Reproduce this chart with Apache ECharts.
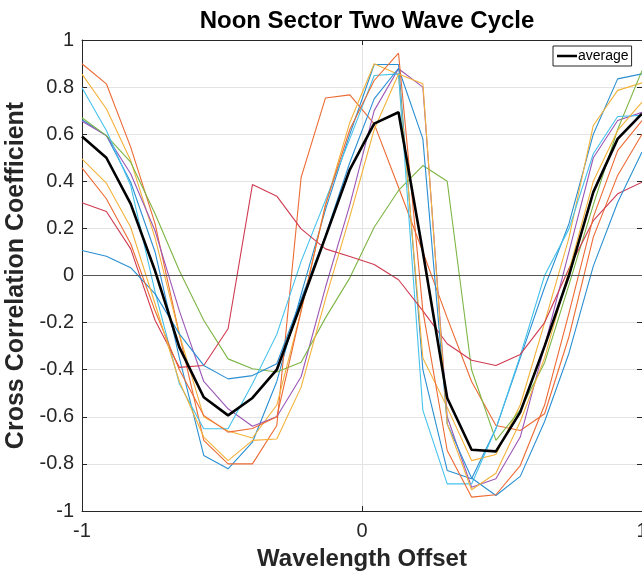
<!DOCTYPE html>
<html>
<head>
<meta charset="utf-8">
<script src="https://cdn.jsdelivr.net/npm/echarts@6.0.0/dist/echarts.min.js"></script>
<style>
  html, body { margin: 0; padding: 0; background: #ffffff; }
  #chart { width: 642px; height: 575px; }
</style>
</head>
<body>
<div id="chart"></div>
<script>
// Wavelength offsets sampled for every cycle (24 samples from -1 to 1)
const offsets = [-1, -0.913, -0.8261, -0.7391, -0.6522, -0.5652, -0.4783, -0.3913,
  -0.3043, -0.2174, -0.1304, -0.0435, 0.0435, 0.1304, 0.2174, 0.3043,
  0.3913, 0.4783, 0.5652, 0.6522, 0.7391, 0.8261, 0.913, 1];

const xTickValues = [-1, 0, 1];
const yTickValues = [-1, -0.8, -0.6, -0.4, -0.2, 0, 0.2, 0.4, 0.6, 0.8, 1];

// Cross correlation coefficient of each individual cycle
const cycle01 = [0.661, 0.594, 0.396, 0.10, -0.35, -0.764, -0.821, -0.708, -0.45, -0.08, 0.28, 0.60,
  0.896, 0.896, -0.40, -0.828, -0.863, -0.65, -0.35, -0.05, 0.22, 0.60, 0.835, 0.856];
const cycle02 = [0.899, 0.814, 0.545, 0.22, -0.25, -0.70, -0.80, -0.80, -0.637, 0.417, 0.754, 0.767,
  0.644, 0.375, 0.10, -0.18, -0.45, -0.637, -0.658, -0.587, -0.26, 0.163, 0.425, 0.60];
const cycle03 = [0.855, 0.708, 0.488, 0.16, -0.25, -0.60, -0.66, -0.69, -0.55, -0.15, 0.30, 0.65,
  0.899, 0.853, -0.35, -0.56, -0.786, -0.76, -0.55, -0.20, 0.16, 0.637, 0.786, 0.818];
const cycle04 = [0.655, 0.594, 0.432, 0.19, -0.15, -0.45, -0.566, -0.64, -0.60, -0.43, -0.05, 0.30,
  0.70, 0.878, 0.80, -0.60, -0.899, -0.863, -0.686, -0.30, 0.10, 0.50, 0.658, 0.693];
const cycle05 = [0.67, 0.594, 0.481, 0.262, 0.02, -0.19, -0.354, -0.396, -0.41, -0.368, -0.18, -0.01,
  0.205, 0.361, 0.467, 0.40, -0.40, -0.70, -0.57, -0.37, -0.04, 0.30, 0.62, 0.87];
const cycle06 = [0.797, 0.616, 0.382, -0.07, -0.46, -0.651, -0.651, -0.46, -0.25, 0.06, 0.32, 0.58,
  0.849, 0.856, -0.573, -0.885, -0.885, -0.65, -0.34, 0.0, 0.198, 0.517, 0.675, 0.68];
const cycle07 = [0.309, 0.272, 0.113, -0.19, -0.39, -0.382, -0.226, 0.386, 0.337, 0.198, 0.113, 0.081,
  0.047, -0.018, -0.15, -0.29, -0.36, -0.382, -0.335, -0.20, 0.03, 0.233, 0.347, 0.396];
const cycle08 = [0.106, 0.082, 0.033, -0.078, -0.248, -0.382, -0.439, -0.425, -0.375, -0.10, 0.17, 0.48,
  0.75, 0.88, 0.58, -0.63, -0.86, -0.934, -0.853, -0.62, -0.33, 0.04, 0.31, 0.524];
const cycle09 = [0.457, 0.326, 0.135, -0.15, -0.40, -0.594, -0.665, -0.65, -0.60, -0.15, 0.30, 0.62,
  0.828, 0.944, -0.15, -0.743, -0.941, -0.931, -0.807, -0.55, -0.16, 0.248, 0.53, 0.658];
const cycle10 = [0.495, 0.392, 0.205, -0.12, -0.45, -0.686, -0.786, -0.70, -0.694, -0.474, -0.10, 0.25,
  0.62, 0.856, 0.814, -0.63, -0.91, -0.84, -0.62, -0.35, 0.02, 0.40, 0.616, 0.736];

// Mean over all cycles
const averageCC = [0.59, 0.50, 0.304, 0.02, -0.305, -0.517, -0.594, -0.52, -0.40, -0.12, 0.164, 0.45,
  0.645, 0.693, 0.10, -0.52, -0.74, -0.747, -0.58, -0.30, 0.0, 0.354, 0.58, 0.687];

const cycles = [cycle01, cycle02, cycle03, cycle04, cycle05, cycle06, cycle07, cycle08, cycle09, cycle10];
const cycleColors = ['#2a8fd2', '#ec6a33', '#f3b23a', '#9c57b6', '#7db544', '#44c2ec', '#cf3a51',
  '#2a8fd2', '#ec6a33', '#f3b23a'];

const FONT = 'Liberation Sans, Arial, Helvetica, sans-serif';
const AXIS_COLOR = '#262626';

function pairs(ys) {
  return offsets.map((x, i) => [x, ys[i]]);
}

function tickText(v) {
  const r = Math.round(v * 10) / 10;
  return String(r);
}

const series = cycles.map((ys, i) => ({
  name: 'cycle' + (i + 1),
  type: 'line',
  data: pairs(ys),
  showSymbol: false,
  symbol: 'none',
  lineStyle: { color: cycleColors[i], width: 1.1 },
  itemStyle: { color: cycleColors[i] },
  emphasis: { disabled: true },
  silent: true,
  z: 3
}));

// zero reference line drawn underneath the cycles
series[0].markLine = {
  silent: true,
  symbol: ['none', 'none'],
  label: { show: false },
  lineStyle: { color: '#555555', width: 1, type: 'solid' },
  emphasis: { disabled: true },
  data: [{ yAxis: 0 }]
};

series.push({
  name: 'average',
  type: 'line',
  data: pairs(averageCC),
  showSymbol: false,
  symbol: 'none',
  lineStyle: { color: '#000000', width: 2.6 },
  itemStyle: { color: '#000000' },
  emphasis: { disabled: true },
  silent: true,
  z: 5
});

const chart = echarts.init(document.getElementById('chart'), null, { renderer: 'canvas' });

const axisCommon = {
  type: 'value',
  min: -1,
  max: 1,
  axisLine: { show: true, onZero: false, lineStyle: { color: AXIS_COLOR, width: 1 } },
  axisTick: { show: true, inside: true, length: 5, lineStyle: { color: AXIS_COLOR } },
  minorTick: { show: false }
};

chart.setOption({
  animation: false,
  backgroundColor: '#ffffff',
  title: {
    text: 'Noon Sector Two Wave Cycle',
    left: 362,
    top: 4,
    textAlign: 'center',
    textStyle: { fontFamily: FONT, fontWeight: 'bold', fontSize: 24, color: '#000000' }
  },
  legend: {
    data: ['average'],
    left: 553,
    top: 46,
    orient: 'vertical',
    icon: 'rect',
    itemWidth: 20,
    itemHeight: 2.5,
    itemGap: 0,
    padding: [3, 3, 3, 4],
    borderColor: '#262626',
    borderWidth: 1,
    borderRadius: 0,
    backgroundColor: '#ffffff',
    textStyle: { fontFamily: FONT, fontSize: 14, color: '#000000', padding: [0, 0, 0, -4] },
    selectedMode: false
  },
  grid: { left: 82, top: 40, right: 0, bottom: 64, containLabel: false, outerBoundsMode: 'none' },
  xAxis: [
    Object.assign({}, axisCommon, {
      position: 'bottom',
      interval: 1,
      name: 'Wavelength Offset',
      nameLocation: 'middle',
      nameGap: 36,
      nameTextStyle: { fontFamily: FONT, fontWeight: 'bold', fontSize: 24, color: AXIS_COLOR },
      axisLabel: {
        show: true, margin: 10, fontFamily: FONT, fontSize: 20, color: AXIS_COLOR,
        formatter: tickText,
        customValues: xTickValues
      },
      splitLine: { show: true, lineStyle: { color: '#e3e3e3', width: 1 } }
    }),
    Object.assign({}, axisCommon, {
      position: 'top',
      interval: 1,
      axisLabel: { show: false },
      splitLine: { show: false }
    })
  ],
  yAxis: [
    Object.assign({}, axisCommon, {
      position: 'left',
      interval: 0.2,
      name: 'Cross Correlation Coefficient',
      nameLocation: 'middle',
      nameGap: 40,
      nameTextStyle: { fontFamily: FONT, fontWeight: 'bold', fontSize: 25, color: AXIS_COLOR },
      axisLabel: {
        show: true, margin: 8, fontFamily: FONT, fontSize: 20, color: AXIS_COLOR,
        formatter: tickText,
        customValues: yTickValues
      },
      splitLine: { show: true, lineStyle: { color: '#e3e3e3', width: 1 } }
    }),
    Object.assign({}, axisCommon, {
      position: 'right',
      interval: 0.2,
      axisLabel: { show: false },
      splitLine: { show: false }
    })
  ],
  series: series
});
</script>
</body>
</html>
